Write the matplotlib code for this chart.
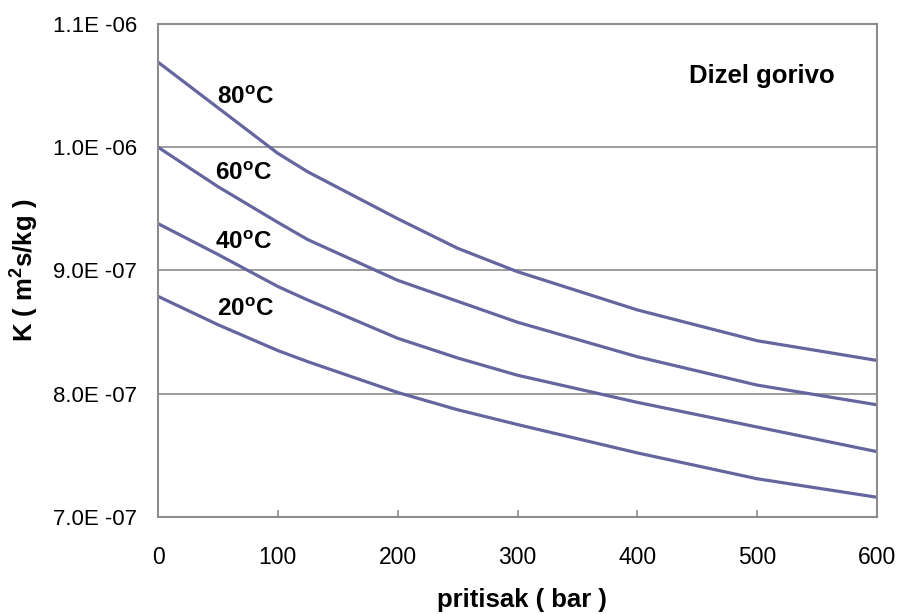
import matplotlib
matplotlib.use("Agg")
import matplotlib.pyplot as plt
from matplotlib.ticker import FuncFormatter, MultipleLocator

plt.rcParams["font.family"] = ["Liberation Sans", "DejaVu Sans"]
plt.rcParams["mathtext.fontset"] = "custom"
plt.rcParams["mathtext.rm"] = "Liberation Sans"
plt.rcParams["mathtext.bf"] = "Liberation Sans:bold"

# pressure (bar)
pressure = [0, 50, 100, 125, 200, 250, 300, 400, 500, 600]
# K values (x 1e-6 m2s/kg) per temperature
k_80 = [1.069, 1.032, 0.995, 0.980, 0.942, 0.918, 0.899, 0.868, 0.843, 0.827]
k_60 = [1.000, 0.968, 0.939, 0.925, 0.892, 0.875, 0.858, 0.830, 0.807, 0.791]
k_40 = [0.938, 0.913, 0.887, 0.876, 0.845, 0.829, 0.815, 0.793, 0.773, 0.753]
k_20 = [0.879, 0.856, 0.835, 0.826, 0.801, 0.787, 0.775, 0.752, 0.731, 0.716]
series = [k_80, k_60, k_40, k_20]
temp_labels = ["80", "60", "40", "20"]
label_pos = [(49, 1.040), (47.5, 0.979), (47.5, 0.9225), (49, 0.868)]

line_color = "#65659f"
grid_color = "#8c8c8c"

fig = plt.figure(figsize=(8.98, 6.14), dpi=100)
ax = fig.add_axes([0.176, 0.158, 0.8006, 0.803])

for vals in series:
    ax.plot(pressure, [v * 1e-6 for v in vals], color=line_color, lw=2.3,
            solid_joinstyle="round")

for t, (x, y) in zip(temp_labels, label_pos):
    ax.text(x, y * 1e-6, t + r"$^{\mathbf{o}}$C", fontsize=17.5,
            fontweight="bold", ha="left", va="center")

ax.text(0.84, 0.895, "Dizel gorivo", transform=ax.transAxes, fontsize=18.5,
        fontweight="bold", ha="center", va="center")

ax.set_xlim(0, 600)
ax.set_ylim(7.0e-7, 1.1e-6)
ax.xaxis.set_major_locator(MultipleLocator(100))
ax.yaxis.set_major_locator(MultipleLocator(1e-7))
ax.yaxis.set_major_formatter(
    FuncFormatter(lambda v, p: f"{v:.1E}".replace("E", "E ")))
ax.yaxis.get_offset_text().set_visible(False)

ax.grid(axis="y", color=grid_color, lw=1.2)
ax.set_axisbelow(True)
for s in ax.spines.values():
    s.set_color(grid_color)
    s.set_linewidth(1.5)

ax.tick_params(axis="x", direction="in", length=5, width=1.2, color=grid_color,
               pad=21, labelsize=16.5)
ax.tick_params(axis="y", length=0, pad=15, labelsize=16)

fig.text(0.026, (614 - 270) / 614, r"K ( m$^{\mathbf{2}}$s/kg )", rotation=90,
         fontsize=18.5, fontweight="bold", ha="center", va="center")
fig.text(0.581, (614 - 600) / 614, "pritisak ( bar )", fontsize=18.5,
         fontweight="bold", ha="center", va="center")

fig.savefig("out.png", dpi=100)
